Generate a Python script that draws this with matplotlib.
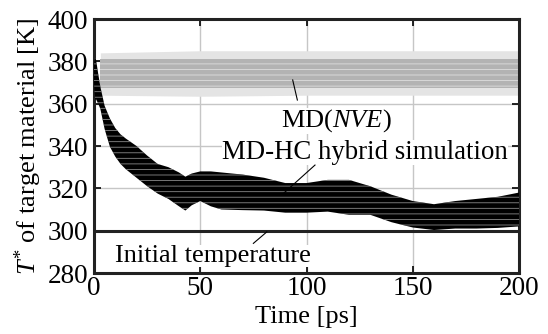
import matplotlib
matplotlib.use("Agg")
import matplotlib.pyplot as plt

plt.rcParams["font.family"] = ["Liberation Serif", "DejaVu Serif"]
plt.rcParams["mathtext.fontset"] = "custom"
plt.rcParams["mathtext.rm"] = "Liberation Serif"
plt.rcParams["mathtext.it"] = "Liberation Serif:italic"
plt.rcParams["hatch.linewidth"] = 0.6

# MD-HC hybrid simulation: envelope of the scattered points
hc_time = [0, 0.5, 1, 2, 3, 5, 7.5, 10, 12.5, 15, 20, 25, 30, 35, 40, 43, 46, 50,
           55, 60, 70, 80, 90, 100, 110, 120, 130, 140, 150, 160, 170, 180, 190, 200]
hc_upper = [379, 381.5, 380.5, 374, 368, 359, 353, 348.5, 345.5, 343.5, 340, 335.5,
            331.5, 330, 327.5, 325.5, 327, 328, 328, 327.5, 326.5, 325, 322.5, 322.5,
            324, 324, 321, 317, 314, 312.5, 314, 315, 316, 318]
hc_lower = [370, 362, 362, 360, 357.5, 348, 339.6, 335, 331.5, 329, 325, 321,
            317.5, 315, 311.5, 309.5, 312, 314, 311.5, 310, 309.7, 309.5, 308.5, 308.5,
            309, 307.5, 307.5, 304, 301.5, 300.3, 301, 301, 301.3, 302]

# MD(NVE): dense core and sparse fringe of the points
nve_time = [3, 50, 100, 150, 200]
nve_core_upper = [381, 381, 381, 381, 381]
nve_core_lower = [367.5, 367.5, 367.5, 367.5, 367.5]
nve_fringe_upper = [384, 385, 385, 385, 385]
nve_fringe_lower = [364, 363.5, 364, 364, 364]

initial_temp = 300

fig = plt.figure(figsize=(5.48, 3.34), dpi=100)
ax = fig.add_axes([94 / 548, 1 - 273 / 334, 425 / 548, 254 / 334])

ax.fill_between(nve_time, nve_fringe_lower, nve_fringe_upper, color="#e4e4e4", lw=0, zorder=2)
ax.fill_between(nve_time, nve_core_lower, nve_core_upper, facecolor="#b3b3b3",
                edgecolor="#dedede", hatch="---", lw=0, zorder=2)
ax.fill_between(hc_time, hc_lower, hc_upper, facecolor="black",
                edgecolor="#8a8a8a", hatch="---", lw=0, zorder=3)
ax.axhline(initial_temp, color="#222222", lw=2.2, zorder=4)

# annotations
box = dict(facecolor="white", edgecolor="none", pad=0)
ax.text(88, 349, "MD($NVE$)", fontsize=19, ha="left", va="baseline", bbox=box, zorder=5)
ax.plot([93.5, 95.7], [371.2, 361.7], color="black", lw=0.8, zorder=5)
ax.text(60.2, 333.8, "MD-HC hybrid simulation", fontsize=19.3, ha="left", va="baseline",
        bbox=box, zorder=5)
ax.plot([104, 88.5], [331, 317], color="black", lw=0.8, zorder=5)
ax.text(9.9, 285.2, "Initial temperature", fontsize=19, ha="left", va="baseline",
        bbox=box, zorder=5)
ax.plot([81.3, 75], [299.4, 294], color="black", lw=0.8, zorder=5)

ax.set_xlim(0, 200)
ax.set_ylim(280, 400)
ax.set_xticks([0, 50, 100, 150, 200])
ax.set_yticks([280, 300, 320, 340, 360, 380, 400])
ax.set_axisbelow(True)
ax.grid(True, color="#c6c6c6", lw=1)
ax.tick_params(direction="in", top=True, right=True, length=5, width=1.2,
               labelsize=19.5, color="black")
ax.tick_params(axis="x", pad=2)
ax.tick_params(axis="y", pad=4)
for s in ax.spines.values():
    s.set_linewidth(2.2)
    s.set_color("#222222")

fig.text(306.5 / 548, 1 - 317 / 334, "Time [ps]", fontsize=19, ha="center", va="center")
fig.text(28.5 / 548, 1 - 146.5 / 334, "$T^{*}$ of target material [K]", fontsize=19,
         rotation=90, ha="center", va="center")

fig.savefig("out.png", dpi=100)
